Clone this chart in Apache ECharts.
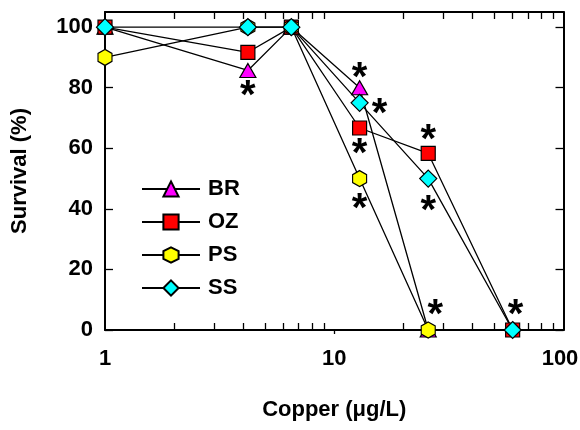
<!DOCTYPE html>
<html>
<head>
<meta charset="utf-8">
<script src="https://cdn.jsdelivr.net/npm/echarts@6/dist/echarts.min.js"></script>
<style>
html,body{margin:0;padding:0;background:#fff;}
#chart{width:580px;height:430px;}
</style>
</head>
<body>
<div id="chart"></div>
<script>
// ---- data ----
var copper = [1, 4.2, 6.5, 12.9, 25.7, 60];
var seriesNames = ['BR', 'OZ', 'PS', 'SS'];
var BR = [100, 85.7, 100, 80, 0];
var OZ = [100, 91.7, 100, 66.7, 58.3, 0];
var PS = [90, 100, 100, 50, 0];
var SS = [100, 100, 100, 75, 50, 0];
// significant difference flags (asterisks)
var BR_sig = [0, 1, 0, 1, 0];
var OZ_sig = [0, 0, 0, 1, 1, 0];
var PS_sig = [0, 0, 0, 1, 1];
var SS_sig = [0, 0, 0, 1, 1, 1];
var xLabels = [1, 10, 100];
var xMinorTicks = [2, 3, 4, 5, 6, 7, 8, 9, 20, 30, 40, 50, 60, 70, 80, 90];
var xMajorTicks = [10];
var yTicks = [0, 20, 40, 60, 80, 100];

// ---- styles ----
var FONT = '"Liberation Sans", Arial, sans-serif';
var starFont = 40;
var starCorr = 8;
// asterisk offsets (px) keyed by series/index
var starOffsets = {
  BR: {1: [0, 19], 3: [0, -17]},
  OZ: {3: [0, 19], 4: [0, -20]},
  PS: {3: [0, 23], 4: [7, -22]},
  SS: {3: [20, 4], 4: [0, 25], 5: [3, -22]}
};
var symbols = {
  BR: {symbol: 'triangle', size: [16, 14], color: '#ff00ff'},
  OZ: {symbol: 'rect', size: 14, color: '#ff0000'},
  PS: {symbol: 'path://M0,-1 L0.866,-0.5 L0.866,0.5 L0,1 L-0.866,0.5 L-0.866,-0.5 Z', size: [14, 16], color: '#ffff00'},
  SS: {symbol: 'diamond', size: 17, color: '#00ffff'}
};
var values = {BR: BR, OZ: OZ, PS: PS, SS: SS};
var sigs = {BR: BR_sig, OZ: OZ_sig, PS: PS_sig, SS: SS_sig};

function buildSeries(name) {
  var vals = values[name], sig = sigs[name], sty = symbols[name];
  var data = vals.map(function (v, i) {
    var item = {value: [copper[i], v]};
    if (sig[i]) {
      var off = starOffsets[name][i] || [0, 0];
      item.label = {
        show: true, formatter: '*', position: 'inside',
        offset: [off[0], off[1] + starCorr],
        fontSize: starFont, fontWeight: 'bold', fontFamily: FONT, color: '#000'
      };
    }
    return item;
  });
  return {
    name: name, type: 'line', data: data,
    xAxisIndex: 0, yAxisIndex: 0,
    symbol: sty.symbol, symbolSize: sty.size,
    showAllSymbol: true,
    lineStyle: {color: '#000', width: 1.3},
    itemStyle: {color: sty.color, borderColor: '#000', borderWidth: 1.2},
    label: {show: false},
    emphasis: {disabled: true},
    animation: false
  };
}

var axisLineStyle = {show: true, lineStyle: {color: '#000', width: 2}};
var labelStyle = {color: '#000', fontSize: 22, fontWeight: 'bold', fontFamily: FONT};

var chart = echarts.init(document.getElementById('chart'));
chart.setOption({
  backgroundColor: '#fff',
  animation: false,
  grid: {left: 105, right: 16.5, top: 12, bottom: 100, containLabel: false, outerBoundsMode: 'none'},
  legend: {
    orient: 'vertical', left: 136, top: 173,
    itemWidth: 58, itemHeight: 19, itemGap: 11,
    data: seriesNames,
    textStyle: {color: '#000', fontSize: 22, fontWeight: 'bold', fontFamily: FONT, padding: [0, 0, 0, 3]},
    selectedMode: false
  },
  xAxis: [
    {
      type: 'log', logBase: 10, min: 1, max: 100, position: 'bottom',
      axisLine: axisLineStyle,
      axisTick: {show: true, inside: true, length: 7, customValues: xMinorTicks, lineStyle: {color: '#000', width: 1.3}},
      axisLabel: Object.assign({
        show: true, margin: 18, customValues: xLabels,
        formatter: function (v) { return v >= 100 ? '{r|' + v + '}' : String(v); },
        rich: {r: {color: '#000', fontSize: 22, fontWeight: 'bold', fontFamily: FONT, padding: [0, 7, 0, 0]}}
      }, labelStyle),
      splitLine: {show: false}, minorTick: {show: false},
      name: 'Copper (\u03bcg/L)', nameLocation: 'middle', nameGap: 69,
      nameTextStyle: {color: '#000', fontSize: 22, fontWeight: 'bold', fontFamily: FONT}
    },
    {
      type: 'log', logBase: 10, min: 1, max: 100, position: 'bottom',
      axisLine: {show: false},
      axisTick: {show: true, inside: false, length: 4, customValues: xMajorTicks, lineStyle: {color: '#000', width: 1.3}},
      axisLabel: {show: false}, splitLine: {show: false}
    },
    {
      type: 'log', logBase: 10, min: 1, max: 100, position: 'top',
      axisLine: axisLineStyle,
      axisTick: {show: true, inside: true, length: 7, customValues: xMinorTicks, lineStyle: {color: '#000', width: 1.3}},
      axisLabel: {show: false}, splitLine: {show: false}
    }
  ],
  yAxis: [
    {
      type: 'value', min: 0, max: 105, position: 'left',
      axisLine: axisLineStyle,
      axisTick: {show: true, inside: true, length: 8, customValues: yTicks, lineStyle: {color: '#000', width: 1.3}},
      axisLabel: Object.assign({show: true, margin: 12, customValues: yTicks}, labelStyle),
      splitLine: {show: false},
      name: 'Survival (%)', nameLocation: 'middle', nameRotate: 90, nameGap: 74,
      nameTextStyle: {color: '#000', fontSize: 22, fontWeight: 'bold', fontFamily: FONT}
    },
    {
      type: 'value', min: 0, max: 105, position: 'right',
      axisLine: axisLineStyle,
      axisTick: {show: true, inside: true, length: 8, customValues: yTicks, lineStyle: {color: '#000', width: 1.3}},
      axisLabel: {show: false}, splitLine: {show: false}
    }
  ],
  series: seriesNames.map(buildSeries)
});
</script>
</body>
</html>
